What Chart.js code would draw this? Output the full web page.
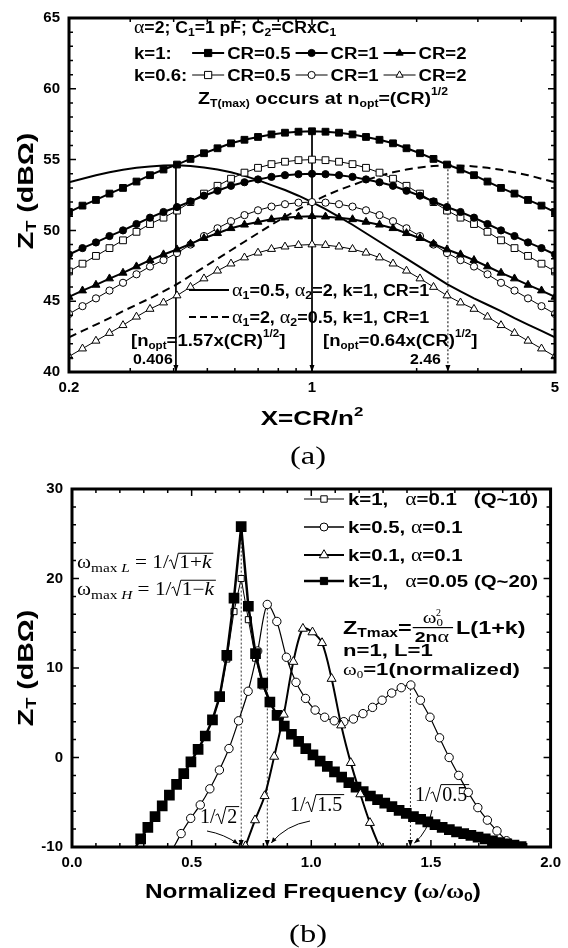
<!DOCTYPE html>
<html lang="en">
<head>
<meta charset="UTF-8">
<title>ZT versus X and normalized frequency</title>
<style>
    html, body { margin: 0; padding: 0; background: #fff; }
    #wrap { position: relative; width: 568px; height: 948px; }
    #chartA { position: absolute; left: 0; top: 0; }
    #chartB { position: absolute; left: 0; top: 470px; }
</style>
</head>
<body>
<div id="wrap">
    <canvas id="chartA" width="568" height="470" style="width:568px;height:470px"></canvas>
    <canvas id="chartB" width="568" height="478" style="width:568px;height:478px"></canvas>
</div>

<script src="https://cdn.jsdelivr.net/npm/chart.js@4.4.1/dist/chart.umd.min.js"></script>
<script>
// ---------- (a) ZT vs X = CR/n^2 ----------
const xA = [0.2, 0.2187, 0.2391, 0.2615, 0.286, 0.3127, 0.342, 0.374, 0.4089, 0.4472, 0.489, 0.5348, 0.5848,
    0.6394, 0.6993, 0.7647, 0.8362, 0.9144, 1, 1.0935, 1.1958, 1.3077, 1.43, 1.5637, 1.71, 1.8699, 2.0448,
    2.2361, 2.4452, 2.674, 2.924, 3.1975, 3.4966, 3.8236, 4.1813, 4.5724, 5];

const k1Cr05 = [51.3, 51.75, 52.15, 52.6, 53.0, 53.45, 53.9, 54.3, 54.65, 55.05, 55.45, 55.8, 56.15, 56.4, 56.6,
    56.78, 56.9, 56.97, 57.0, 56.97, 56.9, 56.78, 56.6, 56.4, 56.15, 55.8, 55.45, 55.05, 54.65, 54.3, 53.9, 53.45,
    53.0, 52.6, 52.15, 51.75, 51.3];
const k1Cr1 = [48.3, 48.75, 49.15, 49.6, 50.0, 50.45, 50.9, 51.3, 51.65, 52.05, 52.45, 52.8, 53.15, 53.4, 53.6,
    53.78, 53.9, 53.97, 54.0, 53.97, 53.9, 53.78, 53.6, 53.4, 53.15, 52.8, 52.45, 52.05, 51.65, 51.3, 50.9, 50.45,
    50.0, 49.6, 49.15, 48.75, 48.3];
const k1Cr2 = [45.3, 45.75, 46.15, 46.6, 47.0, 47.45, 47.9, 48.3, 48.65, 49.05, 49.45, 49.8, 50.15, 50.4, 50.6,
    50.78, 50.9, 50.97, 51.0, 50.97, 50.9, 50.78, 50.6, 50.4, 50.15, 49.8, 49.45, 49.05, 48.65, 48.3, 47.9, 47.45,
    47.0, 46.6, 46.15, 45.75, 45.3];
const k06Cr05 = [47.1, 47.65, 48.2, 48.75, 49.3, 49.9, 50.45, 50.9, 51.4, 52.0, 52.6, 53.15, 53.65, 54.08, 54.42,
    54.68, 54.85, 54.96, 55.0, 54.96, 54.85, 54.68, 54.42, 54.08, 53.65, 53.15, 52.6, 52.0, 51.4, 50.9, 50.45, 49.9,
    49.3, 48.75, 48.2, 47.65, 47.1];
const k06Cr1 = [44.1, 44.65, 45.2, 45.75, 46.3, 46.9, 47.45, 47.9, 48.4, 49.0, 49.6, 50.15, 50.65, 51.08, 51.42,
    51.68, 51.85, 51.96, 52.0, 51.96, 51.85, 51.68, 51.42, 51.08, 50.65, 50.15, 49.6, 49.0, 48.4, 47.9, 47.45, 46.9,
    46.3, 45.75, 45.2, 44.65, 44.1];
const k06Cr2 = [41.1, 41.65, 42.2, 42.75, 43.3, 43.9, 44.45, 44.9, 45.4, 46.0, 46.6, 47.15, 47.65, 48.08, 48.42,
    48.68, 48.85, 48.96, 49.0, 48.96, 48.85, 48.68, 48.42, 48.08, 47.65, 47.15, 46.6, 46.0, 45.4, 44.9, 44.45, 43.9,
    43.3, 42.75, 42.2, 41.65, 41.1];
// alpha1=0.5, alpha2=2 (solid) and alpha1=2, alpha2=0.5 (dashed)
const a05a2 = [53.4, 53.65, 53.9, 54.1, 54.28, 54.42, 54.52, 54.58, 54.6, 54.55, 54.45, 54.3, 54.1, 53.85, 53.55,
    53.2, 52.85, 52.45, 52.0, 51.5, 50.95, 50.4, 49.8, 49.2, 48.6, 48.0, 47.4, 46.8, 46.2, 45.7, 45.2, 44.75, 44.3,
    43.8, 43.35, 42.9, 42.45];
const a2a05 = [42.45, 42.9, 43.35, 43.8, 44.3, 44.75, 45.2, 45.7, 46.2, 46.8, 47.4, 48.0, 48.6, 49.2, 49.8, 50.4,
    50.95, 51.5, 52.0, 52.45, 52.85, 53.2, 53.55, 53.85, 54.1, 54.3, 54.45, 54.55, 54.6, 54.58, 54.52, 54.42, 54.28,
    54.1, 53.9, 53.65, 53.4];

const xTicksA = [0.2, 0.3, 0.4, 0.5, 0.6, 0.7, 0.8, 0.9, 1, 2, 3, 4, 5];
const xLabelsA = ['0.2', '', '', '', '', '', '', '', '1', '', '', '', '5'];
const refXA = [0.406, 1, 2.46];
const refTopA = [54.6, 57.0, 54.6];

// ---------- (b) ZT vs normalized frequency ----------
const wSq = [0.257, 0.287, 0.317, 0.347, 0.377, 0.407, 0.437, 0.467, 0.497, 0.527, 0.557, 0.587, 0.617, 0.647,
    0.677, 0.707, 0.737, 0.767, 0.797, 0.827, 0.857, 0.887, 0.917, 0.947, 0.977, 1.007, 1.037, 1.067, 1.097, 1.127,
    1.157, 1.187, 1.217, 1.247, 1.277, 1.307, 1.337, 1.367, 1.397, 1.427, 1.457, 1.487, 1.517, 1.547, 1.577, 1.607,
    1.637, 1.667, 1.697, 1.727, 1.757, 1.787, 1.817, 1.847, 1.877];
const zK1a005 = [-10.4, -9.1, -7.8, -6.6, -5.4, -4.2, -3.0, -1.8, -0.5, 0.9, 2.4, 4.2, 6.8, 11.4, 17.8, 25.8, 16.9,
    11.6, 8.3, 6.2, 4.7, 3.5, 2.6, 1.8, 1.0, 0.3, -0.4, -1.0, -1.6, -2.2, -2.8, -3.3, -3.8, -4.3, -4.7, -5.1, -5.5,
    -5.9, -6.25, -6.6, -6.9, -7.2, -7.5, -7.8, -8.05, -8.3, -8.5, -8.7, -8.9, -9.1, -9.3, -9.5, -9.65, -9.8, -9.95];
const zK1a01 = [-10.4, -9.1, -7.8, -6.6, -5.4, -4.2, -3.0, -1.8, -0.5, 0.9, 2.4, 4.2, 6.6, 11.0, 16.3, 20.0, 15.4,
    11.1, 8.0, 6.0, 4.7, 3.5, 2.6, 1.8, 1.0, 0.3, -0.4, -1.0, -1.6, -2.2, -2.8, -3.3, -3.8, -4.3, -4.7, -5.1, -5.5,
    -5.9, -6.25, -6.6, -6.9, -7.2, -7.5, -7.8, -8.05, -8.3, -8.5, -8.7, -8.9, -9.1, -9.3, -9.5, -9.65, -9.8, -9.95];

const wCirc = [0.416, 0.456, 0.496, 0.536, 0.576, 0.616, 0.656, 0.696, 0.736, 0.776, 0.816, 0.856, 0.896, 0.936,
    0.976, 1.016, 1.056, 1.096, 1.136, 1.176, 1.216, 1.256, 1.296, 1.336, 1.376, 1.416, 1.456, 1.496, 1.536, 1.576,
    1.616, 1.656, 1.696, 1.736, 1.776, 1.816, 1.856];
const zK05 = [-10.5, -8.5, -6.8, -5.3, -3.5, -1.4, 1.0, 4.1, 7.4, 11.9, 17.1, 15.2, 11.2, 8.4, 6.6, 5.3, 4.5, 4.1,
    4.0, 4.3, 4.9, 5.6, 6.4, 7.2, 7.8, 8.1, 6.4, 4.5, 2.2, 0.0, -2.0, -3.9, -5.6, -7.0, -8.2, -9.3, -10.3];

const wTri = [0.725, 0.765, 0.805, 0.845, 0.885, 0.925, 0.965, 1.005, 1.045, 1.085, 1.125, 1.165, 1.205, 1.245, 1.285];
const zK01 = [-9.9, -7.0, -4.3, 0.1, 4.8, 10.7, 14.4, 14.0, 12.8, 8.8, 3.6, -0.6, -4.1, -7.3, -10.0];

const refXB = [0.707, 0.816, 1.414];
const refTopB = [25.8, 17.1, 8.1];

// ---------- helpers ----------
const SANS = '"Liberation Sans", Arial, sans-serif';
const SERIF = '"Liberation Serif", "Times New Roman", serif';
const B = s => 'bold ' + s + 'px ' + SANS;
const S = s => s + 'px ' + SERIF;
const SI = s => 'italic ' + s + 'px ' + SERIF;
const KA = 1.16;   // the figure's lettering is wider than Arial
const KB = 1.2;

function pts(xs, ys) {
    return xs.map((x, i) => ({ x: x, y: ys[i] }));
}

function measure(ctx, parts, k) {
    let w = 0;
    parts.forEach(p => { ctx.font = p[1]; w += ctx.measureText(p[0]).width * (k || 1); });
    return w;
}

// text made of several runs [text, font, dy], stretched horizontally by k
function runs(ctx, x, y, parts, align, k) {
    k = k || 1;
    const w = measure(ctx, parts, k);
    let cx = align === 'center' ? x - w / 2 : x;
    ctx.textAlign = 'left';
    ctx.textBaseline = 'alphabetic';
    ctx.fillStyle = '#000';
    parts.forEach(p => {
        ctx.font = p[1];
        ctx.save();
        ctx.translate(cx, y + (p[2] || 0));
        ctx.scale(k, 1);
        ctx.fillText(p[0], 0, 0);
        ctx.restore();
        ctx.font = p[1];
        cx += ctx.measureText(p[0]).width * k;
    });
    return cx;
}

// radical sign with overline
function sqrtRuns(ctx, x, y, s, parts, k) {
    const w = measure(ctx, parts, k);
    ctx.save();
    ctx.strokeStyle = '#000';
    ctx.lineWidth = 1;
    ctx.beginPath();
    ctx.moveTo(x, y - 0.38 * s);
    ctx.lineTo(x + 0.12 * s, y - 0.46 * s);
    ctx.lineTo(x + 0.3 * s, y + 0.05 * s);
    ctx.lineTo(x + 0.52 * s, y - 0.82 * s);
    ctx.lineTo(x + 0.58 * s + w + 2, y - 0.82 * s);
    ctx.stroke();
    ctx.restore();
    return runs(ctx, x + 0.58 * s, y, parts, null, k);
}

function marker(ctx, style, x, y, r, filled) {
    ctx.beginPath();
    if (style === 'rect') {
        ctx.rect(x - r, y - r, 2 * r, 2 * r);
    } else if (style === 'circle') {
        ctx.arc(x, y, r, 0, Math.PI * 2);
    } else {
        ctx.moveTo(x, y - r * 1.15);
        ctx.lineTo(x + r, y + r * 0.6);
        ctx.lineTo(x - r, y + r * 0.6);
        ctx.closePath();
    }
    ctx.fillStyle = filled ? '#000' : '#fff';
    ctx.fill();
    ctx.lineWidth = 1;
    ctx.strokeStyle = '#000';
    ctx.stroke();
}

function sample(ctx, x1, x2, y, lw, style, r, filled) {
    ctx.save();
    ctx.strokeStyle = '#000';
    ctx.lineWidth = lw;
    ctx.beginPath();
    ctx.moveTo(x1, y);
    ctx.lineTo(x2, y);
    ctx.stroke();
    marker(ctx, style, (x1 + x2) / 2, y, r, filled);
    ctx.restore();
}

function arrowDown(ctx, x, y) {
    ctx.beginPath();
    ctx.moveTo(x, y);
    ctx.lineTo(x - 2.5, y - 7);
    ctx.lineTo(x + 2.5, y - 7);
    ctx.closePath();
    ctx.fillStyle = '#000';
    ctx.fill();
}

function curvedArrow(ctx, x0, y0, cx, cy, x1, y1) {
    ctx.save();
    ctx.strokeStyle = '#000';
    ctx.lineWidth = 1;
    ctx.beginPath();
    ctx.moveTo(x0, y0);
    ctx.quadraticCurveTo(cx, cy, x1, y1);
    ctx.stroke();
    const a = Math.atan2(y1 - cy, x1 - cx);
    ctx.beginPath();
    ctx.moveTo(x1, y1);
    ctx.lineTo(x1 - 6 * Math.cos(a - 0.4), y1 - 6 * Math.sin(a - 0.4));
    ctx.lineTo(x1 - 6 * Math.cos(a + 0.4), y1 - 6 * Math.sin(a + 0.4));
    ctx.closePath();
    ctx.fillStyle = '#000';
    ctx.fill();
    ctx.restore();
}

// frame with inward ticks on four sides
function drawFrame(chart, xMajor, yMajor) {
    const { ctx, chartArea: a, scales: { x, y } } = chart;
    ctx.save();
    ctx.strokeStyle = '#000';
    ctx.lineWidth = 1.5;
    ctx.beginPath();
    x.ticks.forEach(t => {
        const px = x.getPixelForValue(t.value);
        const len = xMajor(t.value) ? 7 : 4;
        ctx.moveTo(px, a.bottom); ctx.lineTo(px, a.bottom - len);
        ctx.moveTo(px, a.top); ctx.lineTo(px, a.top + len);
    });
    y.ticks.forEach(t => {
        const py = y.getPixelForValue(t.value);
        const len = yMajor(t.value) ? 7 : 4;
        ctx.moveTo(a.left, py); ctx.lineTo(a.left + len, py);
        ctx.moveTo(a.right, py); ctx.lineTo(a.right - len, py);
    });
    ctx.stroke();
    ctx.lineWidth = 3;
    ctx.strokeRect(a.left, a.top, a.right - a.left, a.bottom - a.top);
    ctx.restore();
}

const tickFont = { family: SANS, size: 15, weight: 'bold' };

// ---------- chart (a) ----------
const plotA = {
    id: 'plotA',
    afterDraw(chart) {
        const { ctx, scales: { x, y } } = chart;
        drawFrame(chart, v => v === 1, v => v % 5 === 0);
        ctx.save();

        refXA.forEach(v => arrowDown(ctx, x.getPixelForValue(v), y.getPixelForValue(40)));

        // legend block
        runs(ctx, 134, 33, [['α', S(18)], ['=2; C', B(16)], ['1', B(11), 3], ['=1 pF; C', B(16)], ['2', B(11), 3],
            ['=CRxC', B(16)], ['1', B(11), 3]], null, 1.1);
        runs(ctx, 134, 59, [['k=1:', B(16)]], null, KA);
        runs(ctx, 134, 81, [['k=0.6:', B(16)]], null, KA);
        let cx = 134 + measure(ctx, [['k=0.6:', B(16)]], KA) + 5;
        [['CR=0.5', 'rect'], ['CR=1', 'circle'], ['CR=2', 'tri']].forEach(it => {
            sample(ctx, cx, cx + 32, 53, 2, it[1], 3.6, true);
            sample(ctx, cx, cx + 32, 75, 1, it[1], 3.6, false);
            runs(ctx, cx + 35, 59, [[it[0], B(16)]], null, KA);
            cx = runs(ctx, cx + 35, 81, [[it[0], B(16)]], null, KA) + 5;
        });
        runs(ctx, 198, 104, [['Z', B(16)], ['T(max)', B(10), 3], [' occurs at n', B(16)], ['opt', B(10), 3],
            ['=(CR)', B(16)], ['1/2', B(10), -9]], null, 1.22);

        // alpha legends
        ctx.strokeStyle = '#000';
        ctx.lineWidth = 2;
        ctx.beginPath(); ctx.moveTo(189, 290); ctx.lineTo(229, 290); ctx.stroke();
        ctx.setLineDash([7, 4]);
        ctx.beginPath(); ctx.moveTo(189, 317); ctx.lineTo(229, 317); ctx.stroke();
        ctx.setLineDash([]);
        runs(ctx, 232, 296, [['α', S(18)], ['1', B(11), 3], ['=0.5, ', B(16)], ['α', S(18)], ['2', B(11), 3],
            ['=2, k=1, CR=1', B(16)]], null, 1.12);
        runs(ctx, 232, 323, [['α', S(18)], ['1', B(11), 3], ['=2, ', B(16)], ['α', S(18)], ['2', B(11), 3],
            ['=0.5, k=1, CR=1', B(16)]], null, 1.12);
        runs(ctx, 131, 346, [['[n', B(16)], ['opt', B(10), 3], ['=1.57x(CR)', B(16)], ['1/2', B(10), -9], [']', B(16)]],
            null, KA);
        runs(ctx, 323, 346, [['[n', B(16)], ['opt', B(10), 3], ['=0.64x(CR)', B(16)], ['1/2', B(10), -9], [']', B(16)]],
            null, KA);
        runs(ctx, 133, 364, [['0.406', B(15)]], null, 1.06);
        runs(ctx, 410, 364, [['2.46', B(15)]], null, 1.06);

        // axis titles and caption
        runs(ctx, 312, 425, [['X=CR/n', B(20)], ['2', B(13), -9]], 'center', 1.3);
        runs(ctx, 308, 464, [['(a)', S(26)]], 'center', 1.25);
        ctx.translate(25, 191);
        ctx.rotate(-Math.PI / 2);
        runs(ctx, 0, 8, [['Z', B(22)], ['T', B(14), 3], [' (dBΩ)', B(22)]], 'center', 1.3);
        ctx.restore();
    }
};

function seriesA(data, style, filled, order) {
    return {
        data: pts(xA, data),
        borderColor: '#000',
        borderWidth: filled ? 2 : 1,
        pointStyle: style,
        pointRadius: style === 'circle' ? 3.6 : (style === 'rect' ? 4.8 : 4.6),
        pointBackgroundColor: filled ? '#000' : '#fff',
        pointBorderColor: '#000',
        pointBorderWidth: 1,
        order: order
    };
}

const datasetsA = [
    seriesA(k1Cr05, 'rect', true, 1),
    seriesA(k1Cr1, 'circle', true, 2),
    seriesA(k1Cr2, 'triangle', true, 3),
    seriesA(k06Cr05, 'rect', false, 4),
    seriesA(k06Cr1, 'circle', false, 5),
    seriesA(k06Cr2, 'triangle', false, 6),
    { data: pts(xA, a05a2), borderColor: '#000', borderWidth: 2, pointRadius: 0, order: 8 },
    { data: pts(xA, a2a05), borderColor: '#000', borderWidth: 2, borderDash: [8, 5], pointRadius: 0, order: 8 }
];
refXA.forEach((v, i) => {
    datasetsA.push({
        data: [{ x: v, y: refTopA[i] }, { x: v, y: 40 }],
        borderColor: '#000', borderWidth: 1, borderDash: i === 2 ? [2, 2] : [], pointRadius: 0, order: 9
    });
});

new Chart(document.getElementById('chartA'), {
    type: 'line',
    data: { datasets: datasetsA },
    options: {
        responsive: false,
        animation: false,
        devicePixelRatio: 1,
        layout: { padding: { top: 10, right: 13, bottom: 0, left: 0 } },
        plugins: { legend: { display: false }, tooltip: { enabled: false } },
        scales: {
            x: {
                type: 'logarithmic', min: 0.2, max: 5,
                afterBuildTicks: s => { s.ticks = xTicksA.map(v => ({ value: v })); },
                afterFit: s => { s.height = 98; },
                grid: { display: false, drawTicks: false },
                border: { display: false },
                ticks: { autoSkip: false, maxRotation: 0, padding: 7, color: '#000', font: tickFont,
                    callback: (v, i) => xLabelsA[i] }
            },
            y: {
                min: 40, max: 65,
                afterFit: s => { s.width = 69; },
                grid: { display: false, drawTicks: false },
                border: { display: false },
                ticks: { stepSize: 1, autoSkip: false, padding: 9, color: '#000', font: tickFont,
                    callback: v => (v % 5 === 0 ? String(v) : '') }
            }
        }
    },
    plugins: [plotA]
});

// ---------- chart (b) ----------
const plotB = {
    id: 'plotB',
    afterDraw(chart) {
        const { ctx, scales: { x, y } } = chart;
        drawFrame(chart, v => Math.abs(v * 2 - Math.round(v * 2)) < 1e-6, v => v % 10 === 0);
        ctx.save();
        refXB.forEach(v => arrowDown(ctx, x.getPixelForValue(v), y.getPixelForValue(-10)));

        // formulas top-left
        let e = runs(ctx, 77, 98, [['ω', S(18)], ['max ', S(13), 4], ['L', SI(13), 4], [' = 1/', S(18)]], null, 1.18);
        sqrtRuns(ctx, e, 98, 18, [['1+', S(18)], ['k', SI(18)]], 1.18);
        e = runs(ctx, 77, 125, [['ω', S(18)], ['max ', S(13), 4], ['H', SI(13), 4], [' = 1/', S(18)]], null, 1.18);
        sqrtRuns(ctx, e, 125, 18, [['1−', S(18)], ['k', SI(18)]], 1.18);

        // legend
        sample(ctx, 304, 344, 29, 1, 'rect', 3.2, false);
        sample(ctx, 304, 344, 57, 1.5, 'circle', 4, false);
        sample(ctx, 304, 344, 85, 2, 'tri', 4.6, false);
        sample(ctx, 304, 344, 111, 2.5, 'rect', 3.6, true);
        runs(ctx, 348, 35, [['k=1,   ', B(17)], ['α', S(18)], ['=0.1   (Q~10)', B(17)]], null, KB);
        runs(ctx, 348, 63, [['k=0.5, ', B(17)], ['α', S(18)], ['=0.1', B(17)]], null, KB);
        runs(ctx, 348, 91, [['k=0.1, ', B(17)], ['α', S(18)], ['=0.1', B(17)]], null, KB);
        runs(ctx, 348, 117, [['k=1,   ', B(17)], ['α', S(18)], ['=0.05 (Q~20)', B(17)]], null, KB);

        // Z_Tmax formula
        const KF = 1.3;
        e = runs(ctx, 343, 164, [['Z', B(18)], ['Tmax', B(12), 3], ['=', B(18)]], null, KF);
        const den = [['2n', B(15)], ['α', S(17)]];
        const fw = measure(ctx, den, KF) + 4;
        const num = [['ω', S(16)], ['0', S(10), 3]];
        const nx = runs(ctx, e + 2 + (fw - measure(ctx, num, KF)) / 2, 153, num, null, KF);
        runs(ctx, nx - 7, 146, [['2', S(10)]]);
        ctx.fillStyle = '#000';
        ctx.fillRect(e + 1, 157, fw + 2, 1.2);
        runs(ctx, e + 3, 172, den, null, KF);
        runs(ctx, e + fw + 6, 164, [['L(1+k)', B(18)]], null, KF);
        runs(ctx, 343, 186, [['n=1, L=1', B(17)]], null, KF);
        runs(ctx, 343, 205, [['ω', S(16)], ['0', S(10), 3], ['=1(normalized)', B(17)]], null, KF);

        // 1/sqrt labels and arrows
        e = runs(ctx, 200, 353, [['1/', S(20)]]);
        sqrtRuns(ctx, e, 353, 20, [['2', S(20)]]);
        e = runs(ctx, 290, 341, [['1/', S(20)]]);
        sqrtRuns(ctx, e, 341, 20, [['1.5', S(20)]]);
        e = runs(ctx, 415, 331, [['1/', S(20)]]);
        sqrtRuns(ctx, e, 331, 20, [['0.5', S(20)]]);
        const yb = y.getPixelForValue(-10);
        curvedArrow(ctx, 207, 361, 224, 364, x.getPixelForValue(refXB[0]) - 3, yb - 3);
        curvedArrow(ctx, 310, 351, 286, 355, x.getPixelForValue(refXB[1]) + 4, yb - 4);
        curvedArrow(ctx, 432, 340, 428, 362, x.getPixelForValue(refXB[2]) + 4, yb - 4);

        // titles
        runs(ctx, 313, 428, [['Normalized Frequency (', B(20)], ['ω/ω', 'bold 20px ' + SERIF], ['0', B(13), 3],
            [')', B(20)]], 'center', 1.22);
        runs(ctx, 308, 472, [['(b)', S(26)]], 'center', 1.25);
        ctx.translate(25, 198);
        ctx.rotate(-Math.PI / 2);
        runs(ctx, 0, 8, [['Z', B(22)], ['T', B(14), 3], [' (dBΩ)', B(22)]], 'center', 1.3);
        ctx.restore();
    }
};

const hideBelow = c => (c.raw && c.raw.y < -10 ? 0 : undefined);

const datasetsB = [
    { data: pts(wTri, zK01), borderColor: '#000', borderWidth: 2, tension: 0.3, pointStyle: 'triangle',
        pointRadius: 5.2, pointBackgroundColor: '#fff', pointBorderColor: '#000', pointBorderWidth: 1, order: 0 },
    { data: pts(wSq, zK1a005), borderColor: '#000', borderWidth: 2.5, pointStyle: 'rect',
        pointRadius: c => hideBelow(c) ?? 5.8, pointBackgroundColor: '#000', pointBorderColor: '#000', order: 1 },
    { data: pts(wCirc, zK05), borderColor: '#000', borderWidth: 1.2, tension: 0.3, pointStyle: 'circle',
        pointRadius: c => hideBelow(c) ?? 4.2, pointBackgroundColor: '#fff', pointBorderColor: '#000',
        pointBorderWidth: 1, order: 2 },
    { data: pts(wSq, zK1a01), borderColor: '#000', borderWidth: 1, pointStyle: 'rect',
        pointRadius: c => hideBelow(c) ?? 4.3, pointBackgroundColor: '#fff', pointBorderColor: '#000',
        pointBorderWidth: 1, order: 3 }
];
refXB.forEach((v, i) => {
    datasetsB.push({
        data: [{ x: v, y: refTopB[i] }, { x: v, y: -10 }],
        borderColor: '#000', borderWidth: 0.8, borderDash: [2, 2], pointRadius: 0, order: 9
    });
});

new Chart(document.getElementById('chartB'), {
    type: 'line',
    data: { datasets: datasetsB },
    options: {
        responsive: false,
        animation: false,
        devicePixelRatio: 1,
        layout: { padding: { top: 19, right: 13, bottom: 0, left: 0 } },
        plugins: { legend: { display: false }, tooltip: { enabled: false } },
        scales: {
            x: {
                type: 'linear', min: 0, max: 2,
                afterFit: s => { s.height = 101; },
                grid: { display: false, drawTicks: false },
                border: { display: false },
                ticks: { stepSize: 0.1, autoSkip: false, maxRotation: 0, padding: 7, color: '#000', font: tickFont,
                    callback: v => (Math.abs(v * 2 - Math.round(v * 2)) < 1e-6 ? v.toFixed(1) : '') }
            },
            y: {
                min: -10, max: 30,
                afterFit: s => { s.width = 72; },
                grid: { display: false, drawTicks: false },
                border: { display: false },
                ticks: { stepSize: 2, autoSkip: false, padding: 9, color: '#000', font: tickFont,
                    callback: v => (v % 10 === 0 ? String(v) : '') }
            }
        }
    },
    plugins: [plotB]
});
</script>
</body>
</html>
